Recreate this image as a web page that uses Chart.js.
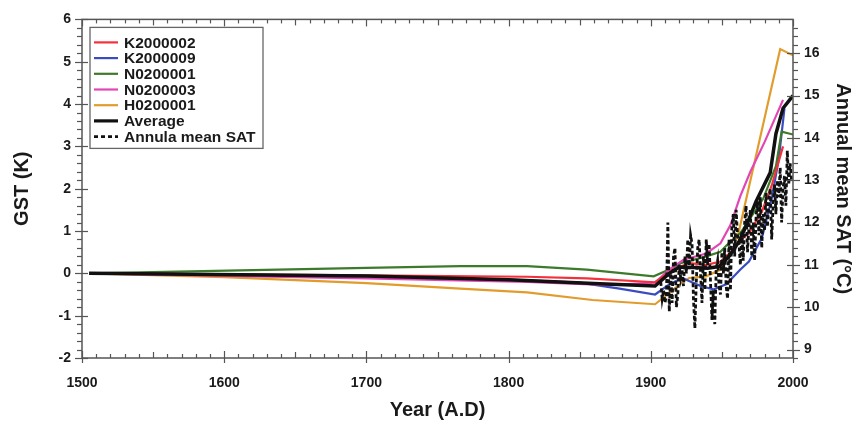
<!DOCTYPE html>
<html>
<head>
<meta charset="utf-8">
<script src="https://cdn.jsdelivr.net/npm/chart.js@4.4.0/dist/chart.umd.min.js"></script>
<style>
  html, body { margin: 0; padding: 0; background: #fff; }
</style>
</head>
<body>
<canvas id="gstChart" width="864" height="430"></canvas>
<script>
// ground surface temperature reconstructions (K, relative) + annual SAT (°C)
const yearTicks = [1500, 1600, 1700, 1800, 1900, 2000];
const gstTicks = [-2, -1, 0, 1, 2, 3, 4, 5, 6];
const satTicks = [9, 10, 11, 12, 13, 14, 15, 16];

const k2000002Years = [1505, 1700, 1813, 1855, 1903, 1916, 1927, 1939, 1949, 1958, 1963, 1969, 1978, 1985, 1993];
const k2000002Gst   = [0, -0.05, -0.08, -0.12, -0.21, 0.09, 0.24, 0.2, 0.28, 0.55, 0.78, 0.95, 1.45, 2.07, 3.0];

const k2000009Years = [1505, 1700, 1800, 1850, 1878, 1903, 1913, 1922, 1935, 1944, 1953, 1963, 1969, 1978, 1985, 1990, 1994];
const k2000009Gst   = [0, -0.06, -0.15, -0.22, -0.36, -0.5, -0.26, -0.11, -0.3, -0.38, -0.26, 0.09, 0.28, 0.82, 1.76, 2.7, 3.9];

const n0200001Years = [1505, 1700, 1766, 1813, 1855, 1902, 1913, 1921, 1939, 1949, 1953, 1963, 1979, 1988, 1992, 2000];
const n0200001Gst   = [0, 0.13, 0.17, 0.17, 0.09, -0.07, 0.09, 0.24, 0.4, 0.51, 0.65, 0.95, 1.76, 2.53, 3.35, 3.28];

const n0200003Years = [1505, 1700, 1813, 1871, 1903, 1913, 1923, 1939, 1949, 1956, 1963, 1970, 1980, 1993];
const n0200003Gst   = [0, -0.12, -0.2, -0.28, -0.22, 0.09, 0.32, 0.47, 0.71, 1.14, 1.83, 2.4, 3.1, 4.1];

const h0200001Years = [1505, 1600, 1700, 1766, 1813, 1859, 1903, 1913, 1923, 1927, 1939, 1949, 1958, 1962, 1991, 2000];
const h0200001Gst   = [0, -0.09, -0.23, -0.36, -0.45, -0.63, -0.73, -0.46, -0.19, -0.11, -0.07, 0.09, 0.59, 1.0, 5.3, 5.15];

const averageYears = [1505, 1700, 1800, 1860, 1903, 1913, 1920, 1930, 1940, 1948, 1955, 1962, 1968, 1974, 1984, 1988, 1993, 2000];
const averageGst   = [0, -0.06, -0.15, -0.24, -0.3, 0.0, 0.15, 0.14, 0.12, 0.16, 0.4, 0.75, 1.2, 1.7, 2.38, 3.3, 3.9, 4.2];

// annual mean SAT, one value per year from satFirstYear
const satFirstYear = 1907;
const satValues = [
  10.6, 10.2, 10.4, 10.1, 10.3, 12.0, 9.9, 10.8, 10.1, 11.2,
  11.4, 10.0, 10.3, 11.0, 10.7, 10.9, 10.5, 11.2, 10.8, 11.6,
  10.9, 11.7, 11.5, 10.2, 9.5, 10.6, 11.4, 11.6, 10.8, 10.1,
  11.2, 10.4, 11.6, 11.0, 11.5, 10.6, 9.7, 10.4, 9.6, 10.9,
  11.1, 10.5, 10.3, 11.3, 10.8, 11.4, 10.5, 10.2, 11.6, 10.4,
  11.9, 12.2, 11.2, 12.3, 11.7, 11.5, 11.0, 11.8, 11.1, 12.0,
  12.4, 11.3, 11.9, 12.3, 11.2, 12.0, 11.1, 12.1, 12.5, 11.7,
  12.6, 11.4, 12.2, 11.8, 12.7, 11.9, 12.5, 12.8, 11.6, 12.4,
  12.9, 12.2, 13.0, 12.6, 13.3, 12.0, 12.8, 13.1, 12.4, 13.7,
  12.9, 13.4, 13.0
];

const colors = {
  red: '#f5303a',
  blue: '#3a4cc0',
  green: '#3e7a2c',
  pink: '#e246b4',
  orange: '#e29c2c',
  black: '#111111',
  axis: '#555555',
  text: '#1a1a1a'
};

const FONT = "'Liberation Sans', Arial, Helvetica, sans-serif";

function pts(xs, ys) {
  return xs.map((x, i) => ({ x: x, y: ys[i] }));
}

function series(label, xs, ys, color, width, order) {
  return {
    label: label,
    data: pts(xs, ys),
    borderColor: color,
    backgroundColor: color,
    borderWidth: width,
    pointRadius: 0,
    tension: 0,
    fill: false,
    yAxisID: 'y',
    order: order
  };
}

const satData = satValues.map((v, i) => ({ x: satFirstYear + i, y: v }));

const datasets = [
  series('K2000002', k2000002Years, k2000002Gst, colors.red, 2.2, 3),
  series('K2000009', k2000009Years, k2000009Gst, colors.blue, 2.2, 6),
  series('N0200001', n0200001Years, n0200001Gst, colors.green, 2.2, 5),
  series('N0200003', n0200003Years, n0200003Gst, colors.pink, 2.2, 4),
  series('H0200001', h0200001Years, h0200001Gst, colors.orange, 2.2, 7),
  series('Average', averageYears, averageGst, colors.black, 3.5, 1),
  {
    label: 'Annula mean SAT',
    data: satData,
    borderColor: colors.black,
    borderWidth: 2.8,
    borderDash: [4, 2.5],
    pointRadius: 0,
    tension: 0,
    fill: false,
    yAxisID: 'y2',
    order: 0
  }
];

// frame + tick marks drawn against the scales
const frameTicks = {
  id: 'frameTicks',
  afterDatasetsDraw(chart) {
    const { ctx, chartArea: a, scales } = chart;
    ctx.save();
    ctx.strokeStyle = colors.axis;
    ctx.lineWidth = 1.2;
    const seg = (x1, y1, x2, y2) => {
      ctx.beginPath(); ctx.moveTo(x1, y1); ctx.lineTo(x2, y2); ctx.stroke();
    };
    // x: every 10 years, inward
    for (let yr = 1500; yr <= 2000; yr += 10) {
      const px = Math.round(scales.x.getPixelForValue(yr)) + 0.5;
      const major = yr % 100 === 0;
      const len = major ? 7 : (yr % 50 === 0 ? 6 : 4);
      seg(px, a.bottom, px, a.bottom - len);
      seg(px, a.top, px, a.top + len);
      if (major) seg(px, a.bottom, px, a.bottom + 5);
    }
    // left: every 0.2 K, outward
    for (let i = 0; i <= 40; i++) {
      const v = -2 + i * 0.2;
      const py = Math.round(scales.y.getPixelForValue(v)) + 0.5;
      const major = i % 5 === 0;
      seg(a.left - (major ? 7 : 5), py, a.left + (major ? 6 : 0), py);
    }
    // right: every 0.2 °C, outward
    for (let i = 0; i <= 39; i++) {
      const v = 9 + i * 0.2 - 0.2;
      if (v < scales.y2.min || v > scales.y2.max) continue;
      const py = Math.round(scales.y2.getPixelForValue(v)) + 0.5;
      const major = Math.abs(v - Math.round(v)) < 1e-6;
      seg(a.right - (major ? 6 : 0), py, a.right + (major ? 7 : 5), py);
    }
    ctx.lineWidth = 1.5;
    ctx.strokeRect(a.left, a.top, a.right - a.left, a.bottom - a.top);
    ctx.restore();
  }
};

// boxed legend inside the plot, top-left
const boxLegend = {
  id: 'boxLegend',
  afterDraw(chart) {
    const { ctx, chartArea: a } = chart;
    const x0 = a.left + 8, y0 = a.top + 8, w = 173, h = 121;
    ctx.save();
    ctx.fillStyle = '#fff';
    ctx.fillRect(x0, y0, w, h);
    ctx.strokeStyle = '#666';
    ctx.lineWidth = 1.3;
    ctx.strokeRect(x0, y0, w, h);
    ctx.font = 'bold 15.5px ' + FONT;
    ctx.textBaseline = 'middle';
    ctx.fillStyle = colors.text;
    chart.data.datasets.forEach((ds, i) => {
      const yy = y0 + 15 + i * 15.7;
      ctx.strokeStyle = ds.borderColor;
      ctx.lineWidth = ds.label === 'Average' ? 3.2 : (ds.borderDash ? 2.6 : 2.2);
      ctx.setLineDash(ds.borderDash ? [4, 3] : []);
      ctx.beginPath(); ctx.moveTo(x0 + 4, yy); ctx.lineTo(x0 + 28, yy); ctx.stroke();
      ctx.setLineDash([]);
      ctx.fillText(ds.label, x0 + 34, yy + 1);
    });
    ctx.restore();
  }
};

const tickFont = { family: FONT, size: 14, weight: 'bold' };
const titleFont = { family: FONT, size: 20, weight: 'bold' };

new Chart(document.getElementById('gstChart'), {
  type: 'line',
  data: { datasets: datasets },
  options: {
    responsive: false,
    animation: false,
    layout: { padding: { top: 15, left: 0, right: 0, bottom: 0 } },
    plugins: { legend: { display: false }, tooltip: { enabled: false } },
    scales: {
      x: {
        type: 'linear',
        min: 1500,
        max: 2000,
        afterBuildTicks: s => { s.ticks = yearTicks.map(v => ({ value: v })); },
        afterFit: s => { s.height = 72; },
        grid: { display: false, drawTicks: false },
        border: { display: false },
        ticks: { font: tickFont, color: colors.text, padding: 17, maxRotation: 0, callback: v => String(v) },
        title: { display: true, text: 'Year (A.D)', font: titleFont, color: colors.text, padding: { top: 0, bottom: 8 } }
      },
      y: {
        position: 'left',
        min: -2,
        max: 6,
        afterBuildTicks: s => { s.ticks = gstTicks.map(v => ({ value: v })); },
        afterFit: s => { s.width = 82; },
        grid: { display: false, drawTicks: false },
        border: { display: false },
        ticks: { font: tickFont, color: colors.text, padding: 11 },
        title: { display: true, text: 'GST (K)', font: titleFont, color: colors.text, padding: { top: 10, bottom: 0 } }
      },
      y2: {
        position: 'right',
        min: 8.8,
        max: 16.8,
        afterBuildTicks: s => { s.ticks = satTicks.map(v => ({ value: v })); },
        afterFit: s => { s.width = 71; },
        grid: { display: false, drawTicks: false },
        border: { display: false },
        ticks: { font: tickFont, color: colors.text, padding: 11 },
        title: { display: true, text: 'Annual mean SAT (°C)', font: titleFont, color: colors.text, padding: { top: 9, bottom: 0 } }
      }
    }
  },
  plugins: [frameTicks, boxLegend]
});
</script>
</body>
</html>
